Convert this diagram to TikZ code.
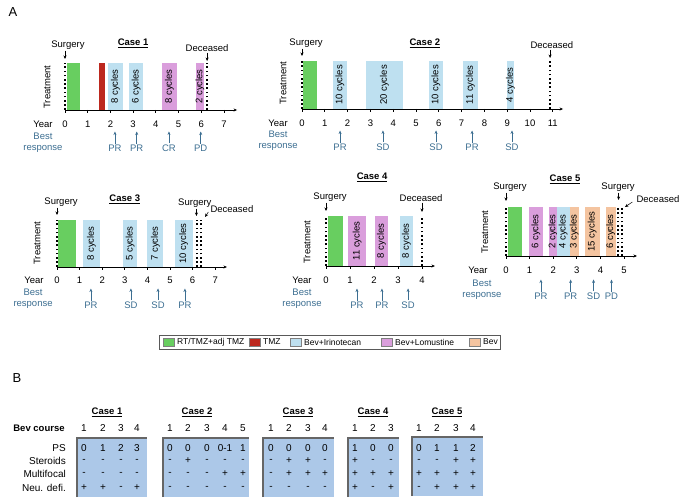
\documentclass[tikz,border=0pt]{standalone}
\usepackage{fontspec}
\setmainfont{Liberation Sans}
\usetikzlibrary{arrows.meta}
\definecolor{crt}{RGB}{104,206,96}
\definecolor{ctmz}{RGB}{188,40,30}
\definecolor{cirn}{RGB}{190,224,240}
\definecolor{clom}{RGB}{218,158,220}
\definecolor{cbev}{RGB}{244,196,160}
\definecolor{respblue}{RGB}{60,110,145}
\definecolor{tabfill}{RGB}{172,200,232}
\begin{document}
\begin{tikzpicture}[x=1pt, y=-1pt, >={Stealth[length=3.5pt,width=3pt]},
  lbl/.style={font=\fontsize{9.5}{11}\selectfont, inner sep=1pt},
  ttl/.style={font=\fontsize{9.5}{11}\selectfont\bfseries, inner sep=1pt},
  resp/.style={lbl, text=respblue},
  cyc/.style={lbl, rotate=90, inner sep=0pt},
  dotline/.style={line width=1.6pt, dash pattern=on 1.6pt off 2.6pt},
  axis/.style={line width=0.8pt},
  arr/.style={->, line width=0.5pt},
  rarr/.style={arr, respblue},
  leg/.style={font=\fontsize{8.5}{10}\selectfont, inner sep=1pt},
  tlbl/.style={font=\fontsize{10}{12}\selectfont, inner sep=1pt},
  tedge/.style={black!60, line width=1.2pt}]
\useasboundingbox (0,0) rectangle (685,500);

\node[font=\fontsize{13}{15}\selectfont] (pa) at (13,12) {A};

% Case 1
\begin{scope}[shift={(65,110)}, x=22.7pt]
\def\bh{47}
\foreach \a/\b/\c/\t [count=\i] in {0.1/0.65/crt/, 1.5/1.76/ctmz/, 1.89/2.55/cirn/8 cycles, 2.82/3.44/cirn/6 cycles, 4.27/4.93/clom/8 cycles, 5.77/6.12/clom/2 cycles}
  {\fill[\c] (\a,0) rectangle (\b,-\bh);
   \node[cyc] (c1b\i) at ({(\a+\b)/2},-\bh/2) {\t};}
\draw[dotline] (0,0) -- (0,-\bh);
\draw[dotline] (6.26,0) -- (6.26,-\bh);
\draw[axis,->] (0,0) -- (7.58,0);
\foreach \t in {0,...,7}
  {\draw[axis] (\t,0) -- (\t,3); \node[lbl] (c1y\t) at (\t,14) {\t};}
\node[ttl] (c1) at (3.0,-67) {\underline{Case 1}};
\node[lbl] (c1s) at (0.13,-65) {Surgery};
\coordinate (c1st) at (0,-51);
\draw[arr] (c1st |- c1s.south) -- (c1st);
\node[lbl] (c1d) at (6.26,-62) {Deceased};
\coordinate (c1dt) at (6.26,-49);
\draw[arr] (c1dt |- c1d.south) -- (c1dt);
\node[lbl, rotate=90] (c1tr) at (-0.79,-23) {Treatment};
\node[lbl] (c1yr) at (-0.97,14) {Year};
\node[resp, align=center] (c1br) at (-0.97,32.5) {Best\\response};
\foreach \x/\r [count=\i] in {2.2/PR, 3.16/PR, 4.58/CR, 5.98/PD}
  {\node[resp] (c1r\i) at (\x,38) {\r}; \draw[rarr] (c1r\i.north) -- ++(0,-12);}
\end{scope}

% Case 2
\begin{scope}[shift={(302,109)}, x=22.8pt]
\def\bh{48}
\foreach \a/\b/\c/\t [count=\i] in {0.05/0.66/crt/, 1.36/1.97/cirn/10 cycles, 2.81/4.43/cirn/20 cycles, 5.57/6.18/cirn/10 cycles, 7.06/7.72/cirn/11 cycles, 8.99/9.3/cirn/4 cycles}
  {\fill[\c] (\a,0) rectangle (\b,-\bh);
   \node[cyc] (c2b\i) at ({(\a+\b)/2},-\bh/2) {\t};}
\draw[dotline] (0,0) -- (0,-\bh);
\draw[dotline] (10.88,0) -- (10.88,-\bh);
\draw[axis,->] (0,0) -- (11.45,0);
\foreach \t in {0,...,11}
  {\draw[axis] (\t,0) -- (\t,3); \node[lbl] (c2y\t) at (\t,14) {\t};}
\node[ttl] (c2) at (5.39,-66) {\underline{Case 2}};
\node[lbl] (c2s) at (0.18,-66) {Surgery};
\coordinate (c2st) at (0,-53);
\draw[arr] (c2st |- c2s.south) -- (c2st);
\node[lbl] (c2d) at (10.96,-64) {Deceased};
\coordinate (c2dt) at (10.88,-51);
\draw[arr] (c2dt |- c2d.south) -- (c2dt);
\node[lbl, rotate=90] (c2tr) at (-0.83,-26) {Treatment};
\node[lbl] (c2yr) at (-1.05,14) {Year};
\node[resp, align=center] (c2br) at (-1.05,32) {Best\\response};
\foreach \x/\r [count=\i] in {1.67/PR, 3.55/SD, 5.88/SD, 7.46/PR, 9.21/SD}
  {\node[resp] (c2r\i) at (\x,38) {\r}; \draw[rarr] (c2r\i.north) -- ++(0,-12);}
\end{scope}

% Case 3
\begin{scope}[shift={(57,267)}, x=22.6pt]
\def\bh{47}
\foreach \a/\b/\c/\t [count=\i] in {0.05/0.84/crt/, 1.15/1.9/cirn/8 cycles, 2.92/3.55/cirn/5 cycles, 4.0/4.7/cirn/7 cycles, 5.2/6.0/cirn/10 cycles}
  {\fill[\c] (\a,0) rectangle (\b,-\bh);
   \node[cyc] (c3b\i) at ({(\a+\b)/2},-\bh/2) {\t};}
\draw[dotline] (0,0) -- (0,-\bh);
\draw[dotline] (6.19,0) -- (6.19,-\bh);
\draw[dotline] (6.37,0) -- (6.37,-\bh);
\draw[axis,->] (0,0) -- (7.52,0);
\foreach \t in {0,...,7}
  {\draw[axis] (\t,0) -- (\t,3); \node[lbl] (c3y\t) at (\t,13) {\t};}
\node[ttl] (c3) at (3.0,-68) {\underline{Case 3}};
\node[lbl] (c3s) at (0.18,-65) {Surgery};
\coordinate (c3st) at (0,-52);
\draw[arr] (c3st |- c3s.south) -- (c3st);
\node[lbl] (c3s2) at (6.1,-64) {Surgery};
\coordinate (c3s2t) at (6.17,-51);
\draw[arr] (c3s2t |- c3s2.south) -- (c3s2t);
\node[lbl] (c3d) at (7.74,-58) {Deceased};
\coordinate (c3dt) at (6.55,-50);
\draw[arr] ([shift={(-1pt,-3pt)}]c3d.west) -- (c3dt);
\node[lbl, rotate=90] (c3tr) at (-0.88,-24) {Treatment};
\node[lbl] (c3yr) at (-1.02,13) {Year};
\node[resp, align=center] (c3br) at (-1.06,32) {Best\\response};
\foreach \x/\r [count=\i] in {1.5/PR, 3.27/SD, 4.47/SD, 5.66/PR}
  {\node[resp] (c3r\i) at (\x,38) {\r}; \draw[rarr] (c3r\i.north) -- ++(0,-12);}
\end{scope}

% Case 4
\begin{scope}[shift={(326,266)}, x=24pt]
\def\bh{50}
\foreach \a/\b/\c/\t [count=\i] in {0.08/0.7/crt/, 0.92/1.67/clom/11 cycles, 2.04/2.58/clom/8 cycles, 3.08/3.63/cirn/8 cycles}
  {\fill[\c] (\a,0) rectangle (\b,-\bh);
   \node[cyc] (c4b\i) at ({(\a+\b)/2},-\bh/2) {\t};}
\draw[dotline] (0,0) -- (0,-\bh);
\draw[dotline] (4.0,0) -- (4.0,-\bh);
\draw[axis,->] (0,0) -- (4.54,0);
\foreach \t in {0,...,4}
  {\draw[axis] (\t,0) -- (\t,3); \node[lbl] (c4y\t) at (\t,14) {\t};}
\node[ttl] (c4) at (1.92,-89) {\underline{Case 4}};
\node[lbl] (c4s) at (0.17,-69) {Surgery};
\coordinate (c4st) at (0,-55);
\draw[arr] (c4st |- c4s.south) -- (c4st);
\node[lbl] (c4d) at (3.96,-68) {Deceased};
\coordinate (c4dt) at (4.0,-54);
\draw[arr] (c4dt |- c4d.south) -- (c4dt);
\node[lbl, rotate=90] (c4tr) at (-0.79,-24) {Treatment};
\node[lbl] (c4yr) at (-1.0,14) {Year};
\node[resp, align=center] (c4br) at (-1.0,33) {Best\\response};
\foreach \x/\r [count=\i] in {1.29/PR, 2.33/PR, 3.42/SD}
  {\node[resp] (c4r\i) at (\x,39) {\r}; \draw[rarr] (c4r\i.north) -- ++(0,-12);}
\end{scope}

% Case 5
\begin{scope}[shift={(506,256)}, x=23.6pt]
\def\bh{49}
\foreach \a/\b/\c/\t [count=\i] in {0.08/0.68/crt/, 0.97/1.56/clom/6 cycles, 1.82/2.15/clom/2 cycles, 2.15/2.7/cirn/4 cycles, 2.7/3.08/cbev/3 cycles, 3.33/3.97/cbev/15 cycles, 4.22/4.64/cbev/6 cycles}
  {\fill[\c] (\a,0) rectangle (\b,-\bh);
   \node[cyc] (c5b\i) at ({(\a+\b)/2},-\bh/2) {\t};}
\draw[dotline] (0,0) -- (0,-\bh);
\draw[dotline] (4.75,0) -- (4.75,-\bh);
\draw[dotline] (4.92,0) -- (4.92,-\bh);
\draw[axis,->] (0,0) -- (5.55,0);
\foreach \t in {0,...,5}
  {\draw[axis] (\t,0) -- (\t,3); \node[lbl] (c5y\t) at (\t,14) {\t};}
\node[ttl] (c5) at (2.5,-77) {\underline{Case 5}};
\node[lbl] (c5s) at (0.17,-69) {Surgery};
\coordinate (c5st) at (0,-55);
\draw[arr] (c5st |- c5s.south) -- (c5st);
\node[lbl] (c5s2) at (4.75,-69) {Surgery};
\coordinate (c5s2t) at (4.77,-56);
\draw[arr] (c5s2t |- c5s2.south) -- (c5s2t);
\node[lbl] (c5d) at (6.44,-57) {Deceased};
\coordinate (c5dt) at (5.04,-49);
\draw[arr] ([shift={(-3pt,-3pt)}]c5d.west) -- (c5dt);
\node[lbl, rotate=90] (c5tr) at (-0.89,-24) {Treatment};
\node[lbl] (c5yr) at (-1.19,14) {Year};
\node[resp, align=center] (c5br) at (-1.02,33.5) {Best\\response};
\foreach \x/\r [count=\i] in {1.48/PR, 2.74/PR, 3.71/SD, 4.47/PD}
  {\node[resp] (c5r\i) at (\x,40) {\r}; \draw[rarr] (c5r\i.north) -- ++(0,-12);}
\end{scope}

% legend
\draw[black!65, line width=1pt] (159,335) rectangle (500,349);
\foreach \x/\c/\t [count=\i] in {163/crt/{RT/TMZ+adj TMZ}, 249/ctmz/TMZ, 290/cirn/Bev+Irinotecan, 381/clom/Bev+Lomustine, 469/cbev/Bev}
  {\filldraw[fill=\c, draw=black!50, line width=0.4pt] (\x,338) rectangle ++(11,8);
   \node[leg, anchor=west] (leg\i) at (\x+13,342) {\t};}

% B table
\node[font=\fontsize{13}{15}\selectfont] (pb) at (17,378) {B};
\node[tlbl, font=\fontsize{9.5}{11}\selectfont\bfseries] (bev) at (39,428) {Bev course};
\foreach \y/\t [count=\i] in {448/PS, 461/Steroids, 474/Multifocal, 488/Neu. defi.}
  \node[tlbl, anchor=east] (row\i) at (67,\y) {\t};

\node[ttl] (t1) at (107,412) {\underline{Case 1}};
\fill[tabfill] (77,438) rectangle (147,497);
\draw[tedge] (77,497) -- (77,438) -- (147,438);
\foreach \x/\p/\s/\m/\n [count=\i] in {84/0/-/-/+, 103/1/-/-/+, 121/2/-/-/-, 137/3/-/-/+}
  {\node[tlbl] (t1h\i) at (\x,428) {\i};
   \node[tlbl] (t1p\i) at (\x,448) {\p};
   \node[tlbl] (t1s\i) at (\x,461) {\s};
   \node[tlbl] (t1m\i) at (\x,474) {\m};
   \node[tlbl] (t1n\i) at (\x,488) {\n};}

\node[ttl] (t2) at (197,412) {\underline{Case 2}};
\fill[tabfill] (163,438) rectangle (249,497);
\draw[tedge] (163,497) -- (163,438) -- (249,438);
\foreach \x/\p/\s/\m/\n [count=\i] in {170/0/-/-/-, 188/0/+/-/-, 207/0/-/-/-, 225/0-1/-/+/-, 243/1/-/+/-}
  {\node[tlbl] (t2h\i) at (\x,428) {\i};
   \node[tlbl] (t2p\i) at (\x,448) {\p};
   \node[tlbl] (t2s\i) at (\x,461) {\s};
   \node[tlbl] (t2m\i) at (\x,474) {\m};
   \node[tlbl] (t2n\i) at (\x,488) {\n};}

\node[ttl] (t3) at (298,412) {\underline{Case 3}};
\fill[tabfill] (263,438) rectangle (334,497);
\draw[tedge] (263,497) -- (263,438) -- (334,438);
\foreach \x/\p/\s/\m/\n [count=\i] in {271/0/-/-/-, 289/0/+/+/-, 308/0/+/+/-, 325/0/-/+/-}
  {\node[tlbl] (t3h\i) at (\x,428) {\i};
   \node[tlbl] (t3p\i) at (\x,448) {\p};
   \node[tlbl] (t3s\i) at (\x,461) {\s};
   \node[tlbl] (t3m\i) at (\x,474) {\m};
   \node[tlbl] (t3n\i) at (\x,488) {\n};}

\node[ttl] (t4) at (373,412) {\underline{Case 4}};
\fill[tabfill] (348,438) rectangle (399,497);
\draw[tedge] (348,497) -- (348,438) -- (399,438);
\foreach \x/\p/\s/\m/\n [count=\i] in {355/1/+/+/+, 373/0/-/+/-, 391/0/-/+/+}
  {\node[tlbl] (t4h\i) at (\x,428) {\i};
   \node[tlbl] (t4p\i) at (\x,448) {\p};
   \node[tlbl] (t4s\i) at (\x,461) {\s};
   \node[tlbl] (t4m\i) at (\x,474) {\m};
   \node[tlbl] (t4n\i) at (\x,488) {\n};}

\node[ttl] (t5) at (447,412) {\underline{Case 5}};
\fill[tabfill] (412,437) rectangle (483,496);
\draw[tedge] (412,496) -- (412,437) -- (483,437);
\foreach \x/\p/\s/\m/\n [count=\i] in {419/0/-/+/-, 437/1/-/+/+, 456/1/+/+/+, 473/2/+/+/+}
  {\node[tlbl] (t5h\i) at (\x,428) {\i};
   \node[tlbl] (t5p\i) at (\x,448) {\p};
   \node[tlbl] (t5s\i) at (\x,461) {\s};
   \node[tlbl] (t5m\i) at (\x,474) {\m};
   \node[tlbl] (t5n\i) at (\x,488) {\n};}
\end{tikzpicture}
\end{document}
